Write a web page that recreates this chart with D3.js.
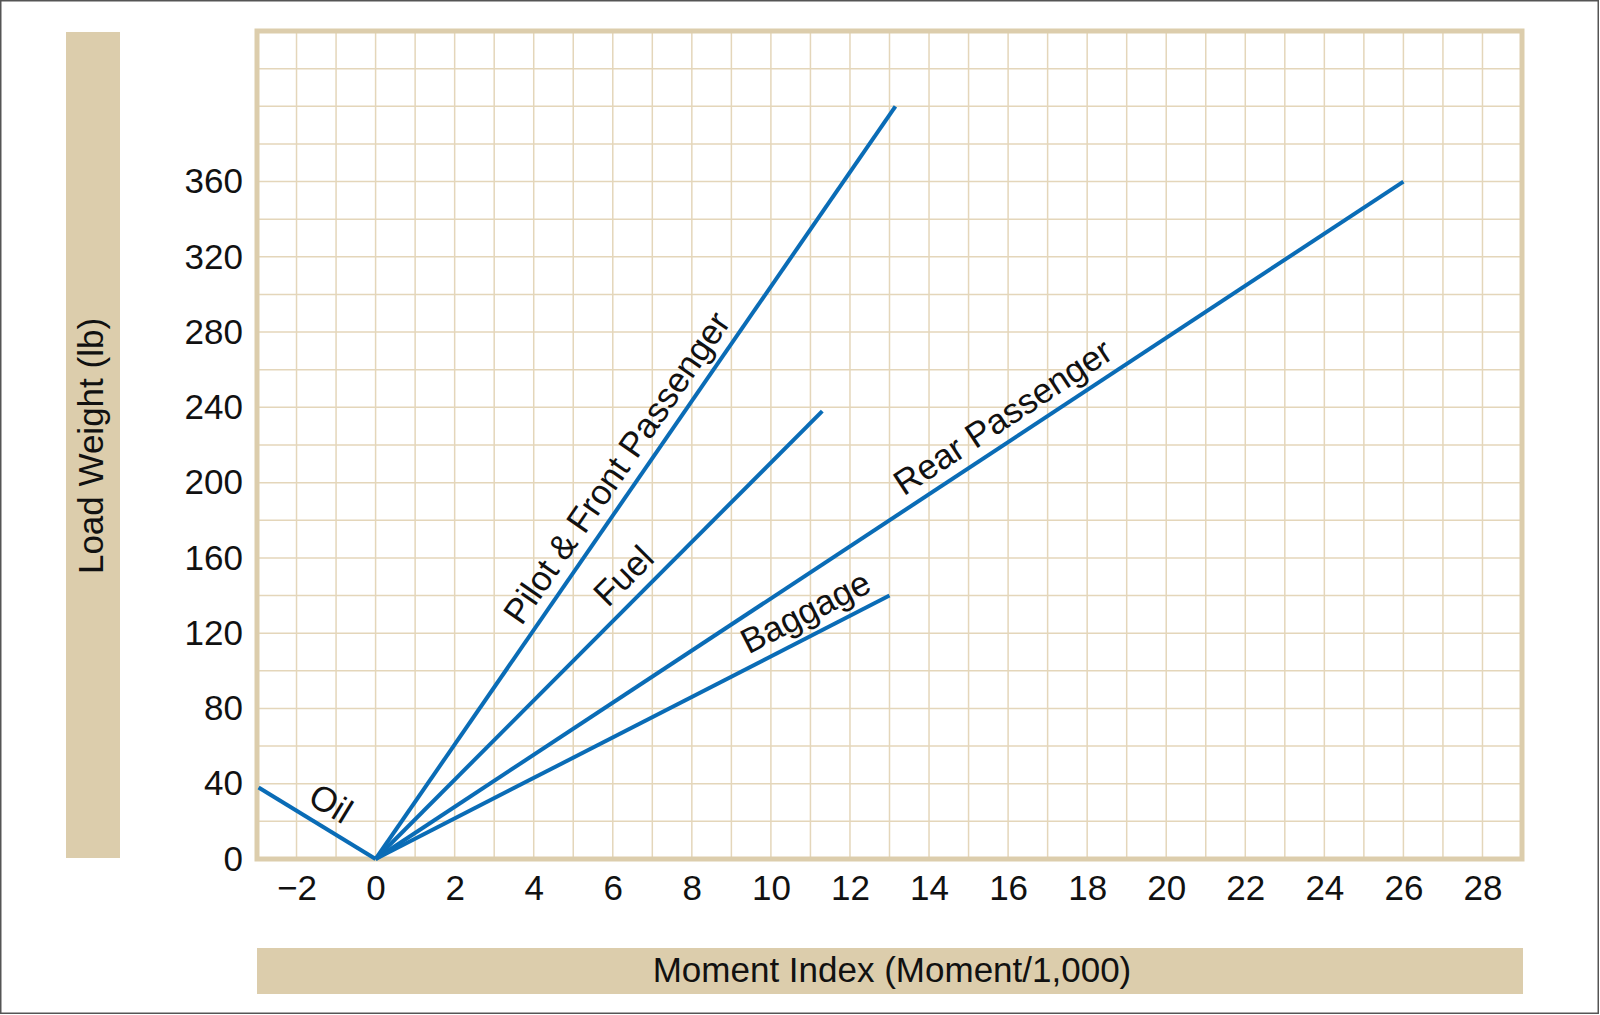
<!DOCTYPE html>
<html>
<head>
<meta charset="utf-8">
<script src="https://cdn.jsdelivr.net/npm/d3@7"></script>
<style>
  html, body { margin: 0; padding: 0; background: #fff; }
  text { font-family: 'Liberation Sans', Arial, Helvetica, sans-serif; fill: #111; }
</style>
</head>
<body>
<div id="screen"></div>
<script>
// Lignes de chargement : chaque ligne part de (0, 0)
const seriesNames = ['Oil', 'Pilot & Front Passenger', 'Fuel', 'Rear Passenger', 'Baggage']
const endMoment = [-2.96, 13.15, 11.3, 26, 13]
const endWeight = [38, 400, 238, 360, 140]

// Position des étiquettes sur chaque ligne (moment, poids)
const labelMoment = [-1.45, 6.6, 6.7, 16.2, 11.15]
const labelWeight = [18.6, 200.7, 141.5, 224.3, 120]

const xTicks = [-2, 0, 2, 4, 6, 8, 10, 12, 14, 16, 18, 20, 22, 24, 26, 28]
const yTicks = [0, 40, 80, 120, 160, 200, 240, 280, 320, 360]

const xTitle = 'Moment Index (Moment/1,000)'
const yTitle = 'Load Weight (lb)'

const width = 1600
const height = 1015
const fontSize = '35px'
const tan = '#dccdac'
const gridColor = '#e4d6ba'
const blue = '#0a6cb6'

const svg = d3.select('#screen').append('svg')
  .attr('width', width)
  .attr('height', height)

// Bordure extérieure
svg.append('rect')
  .attr('x', 0.75).attr('y', 0.75)
  .attr('width', 1597.5).attr('height', 1012.5)
  .attr('fill', '#fff')
  .attr('stroke', '#555')
  .attr('stroke-width', 1.5)

const x = d3.scaleLinear().domain([-3, 29]).range([257, 1522])
const y = d3.scaleLinear().domain([0, 440]).range([859, 31])

// Bandeaux des titres
svg.append('rect')
  .attr('x', 66).attr('y', 32)
  .attr('width', 54).attr('height', 826)
  .attr('fill', tan)

svg.append('rect')
  .attr('x', 257).attr('y', 948)
  .attr('width', 1266).attr('height', 46)
  .attr('fill', tan)

// Grille
svg.append('g')
  .selectAll('line')
  .data(d3.range(-2, 29))
  .join('line')
  .attr('x1', d => x(d)).attr('x2', d => x(d))
  .attr('y1', y(440)).attr('y2', y(0))
  .attr('stroke', gridColor)
  .attr('stroke-width', 1.5)

svg.append('g')
  .selectAll('line')
  .data(d3.range(20, 440, 20))
  .join('line')
  .attr('x1', x(-3)).attr('x2', x(29))
  .attr('y1', d => y(d)).attr('y2', d => y(d))
  .attr('stroke', gridColor)
  .attr('stroke-width', 1.5)

// Cadre
svg.append('rect')
  .attr('x', x(-3)).attr('y', y(440))
  .attr('width', x(29) - x(-3))
  .attr('height', y(0) - y(440))
  .attr('fill', 'none')
  .attr('stroke', tan)
  .attr('stroke-width', 5)

// Axes
const xAxis = svg.append('g')
  .attr('transform', `translate(0,${y(0)})`)
  .call(d3.axisBottom(x).tickValues(xTicks).tickSize(0).tickPadding(16))
xAxis.select('.domain').remove()
xAxis.selectAll('text')
  .attr('font-size', fontSize)
  .attr('font-family', "'Liberation Sans', Arial, sans-serif")
  .attr('fill', '#111')

const yAxis = svg.append('g')
  .attr('transform', `translate(${x(-3)},0)`)
  .call(d3.axisLeft(y).tickValues(yTicks).tickSize(0).tickPadding(14))
yAxis.select('.domain').remove()
yAxis.selectAll('text')
  .attr('font-size', fontSize)
  .attr('font-family', "'Liberation Sans', Arial, sans-serif")
  .attr('fill', '#111')

// Titres
svg.append('text')
  .attr('x', 892).attr('y', 982)
  .attr('text-anchor', 'middle')
  .attr('font-size', fontSize)
  .text(xTitle)

svg.append('text')
  .attr('transform', `translate(103,446) rotate(-90)`)
  .attr('text-anchor', 'middle')
  .attr('font-size', fontSize)
  .text(yTitle)

// Lignes
const lines = seriesNames.map((name, i) => ({
  name,
  points: [[0, 0], [endMoment[i], endWeight[i]]],
  label: [labelMoment[i], labelWeight[i]]
}))

const line = d3.line().x(d => x(d[0])).y(d => y(d[1]))

svg.append('g')
  .selectAll('path')
  .data(lines)
  .join('path')
  .attr('d', d => line(d.points))
  .attr('fill', 'none')
  .attr('stroke', blue)
  .attr('stroke-width', 4)
  .attr('stroke-linejoin', 'round')

// Étiquettes le long des lignes
function angleOf (d) {
  const [p0, p1] = d.points
  let a = Math.atan2(y(p1[1]) - y(p0[1]), x(p1[0]) - x(p0[0])) * 180 / Math.PI
  if (a < -90) a += 180
  return a
}

svg.append('g')
  .selectAll('text')
  .data(lines)
  .join('text')
  .attr('transform', d => `translate(${x(d.label[0])},${y(d.label[1])}) rotate(${angleOf(d)})`)
  .attr('text-anchor', 'middle')
  .attr('dy', -12)
  .attr('font-size', fontSize)
  .text(d => d.name)
</script>
</body>
</html>
